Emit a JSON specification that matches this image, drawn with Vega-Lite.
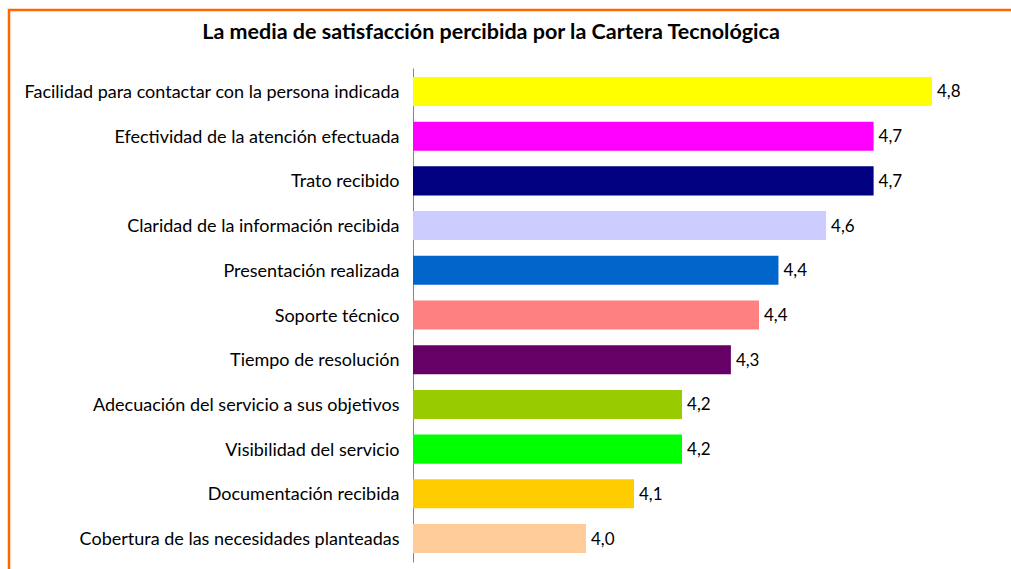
{
  "$schema": "https://vega.github.io/schema/vega-lite/v6.json",
  "width": 1012,
  "height": 569,
  "autosize": {"type": "none"},
  "padding": {"left": 9, "top": 10, "right": -10, "bottom": -10},
  "background": "white",
  "title": {
    "text": "La media de satisfacción percibida por la Cartera Tecnológica",
    "anchor": "middle",
    "frame": "group",
    "offset": -33,
    "dx": -24,
    "font": "Lato",
    "fontSize": 21.5,
    "fontWeight": "bold",
    "color": "#000000"
  },
  "config": {
    "view": {"stroke": "#FF6600", "strokeWidth": 2.5},
    "locale": {"number": {"decimal": ",", "thousands": ".", "grouping": [3], "currency": ["", " €"]}}
  },
  "data": {
    "values": [
      {"aspecto": "Facilidad para contactar con la persona indicada", "media": 4.8},
      {"aspecto": "Efectividad de la atención efectuada", "media": 4.665},
      {"aspecto": "Trato recibido", "media": 4.665},
      {"aspecto": "Claridad de la información recibida", "media": 4.555},
      {"aspecto": "Presentación realizada", "media": 4.445},
      {"aspecto": "Soporte técnico", "media": 4.4},
      {"aspecto": "Tiempo de resolución", "media": 4.335},
      {"aspecto": "Adecuación del servicio a sus objetivos", "media": 4.222},
      {"aspecto": "Visibilidad del servicio", "media": 4.222},
      {"aspecto": "Documentación recibida", "media": 4.111},
      {"aspecto": "Cobertura de las necesidades planteadas", "media": 4.0}
    ]
  },
  "encoding": {
    "y": {
      "field": "aspecto",
      "type": "nominal",
      "sort": null,
      "scale": {"range": [58, 552], "paddingInner": 0.35, "paddingOuter": 0.2},
      "axis": {
        "title": null,
        "ticks": false,
        "offset": -404,
        "domainColor": "#868686",
        "domainWidth": 1,
        "labelFont": "Lato",
        "labelFontSize": 18,
        "labelColor": "#000000",
        "labelPadding": 14,
        "labelOffset": 1.5,
        "labelLimit": 0
      }
    },
    "x": {
      "field": "media",
      "type": "quantitative",
      "scale": {"domain": [3.6, 4.9], "range": [404, 966.25], "zero": false, "nice": false},
      "axis": null
    }
  },
  "layer": [
    {
      "mark": {"type": "bar"},
      "encoding": {
        "x2": {"datum": 3.6},
        "color": {
          "field": "aspecto",
          "type": "nominal",
          "legend": null,
          "scale": {
            "domain": [
              "Facilidad para contactar con la persona indicada",
              "Efectividad de la atención efectuada",
              "Trato recibido",
              "Claridad de la información recibida",
              "Presentación realizada",
              "Soporte técnico",
              "Tiempo de resolución",
              "Adecuación del servicio a sus objetivos",
              "Visibilidad del servicio",
              "Documentación recibida",
              "Cobertura de las necesidades planteadas"
            ],
            "range": ["#FFFF00", "#FF00FF", "#000080", "#CCCCFF", "#0066CC", "#FF8080", "#660066", "#99CC00", "#00FF00", "#FFCC00", "#FFCC99"]
          }
        }
      }
    },
    {
      "mark": {"type": "text", "align": "left", "baseline": "middle", "dx": 5, "dy": 1, "font": "Lato", "fontSize": 17, "color": "#000000"},
      "encoding": {
        "text": {"field": "media", "type": "quantitative", "format": ".1f"}
      }
    }
  ]
}
